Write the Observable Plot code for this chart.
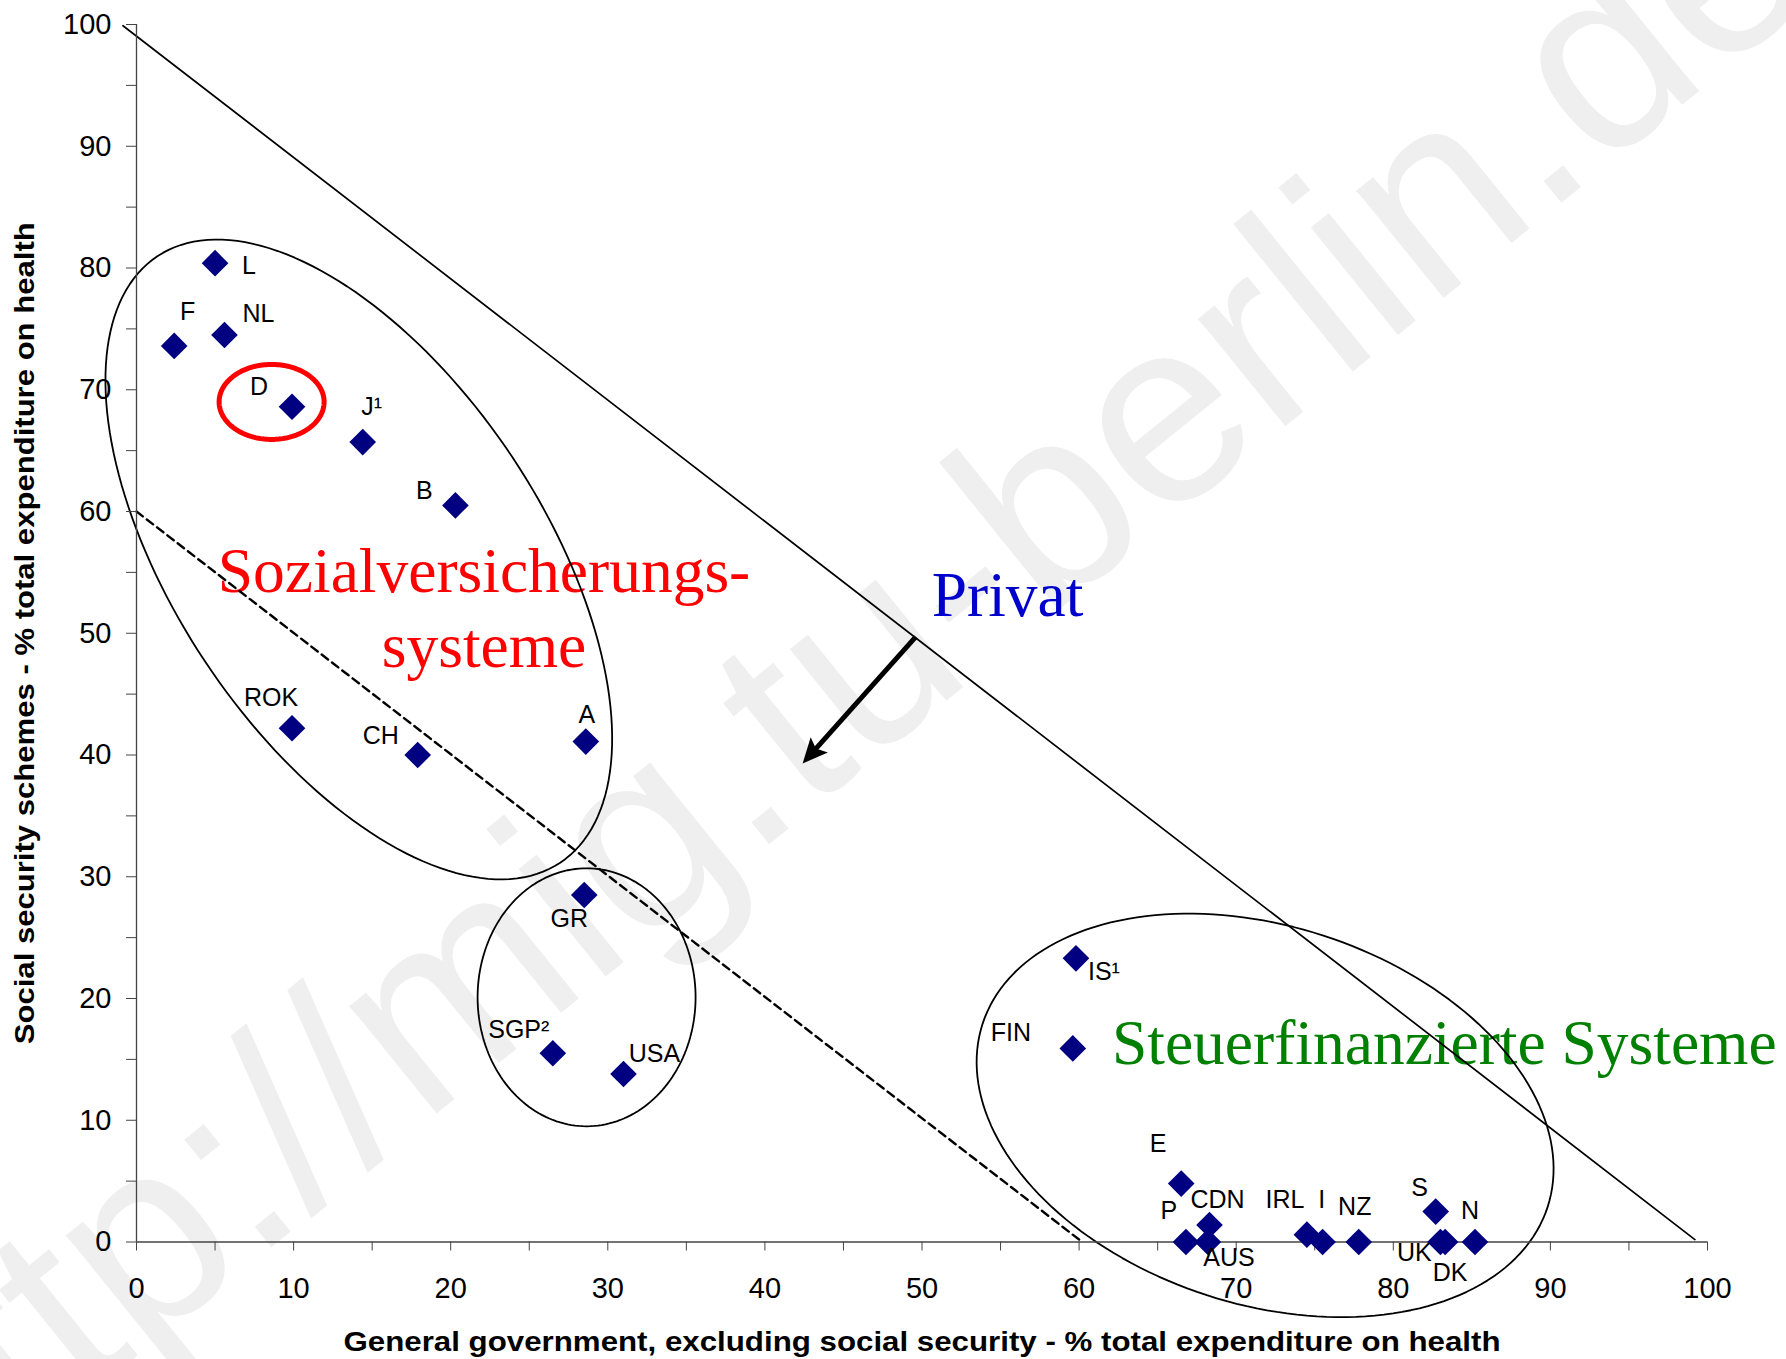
<!DOCTYPE html>
<html><head><meta charset="utf-8">
<script src="https://cdn.jsdelivr.net/npm/d3@7"></script>
<script src="https://cdn.jsdelivr.net/npm/@observablehq/plot@0.6"></script>
<style>html,body{margin:0;padding:0;background:#fff;} svg{display:block}</style>
</head><body><div id="chart"></div>
<script>
// ---- data ----
const countries   = ["L","F","NL","D","J¹","B","ROK","CH","A","GR","SGP²","USA","IS¹","FIN","E","P","CDN","AUS","IRL","I","NZ","S","UK","DK","N"];
const govShare    = [5.0, 2.4, 5.6, 9.9, 14.4, 20.3, 9.9, 17.9, 28.6, 28.5, 26.5, 31.0, 59.8, 59.6, 66.5, 66.8, 68.3, 68.2, 74.5, 75.5, 77.8, 82.7, 83.0, 83.3, 85.2];
const socialShare = [80.4, 73.6, 74.5, 68.6, 65.7, 60.5, 42.2, 40.0, 41.1, 28.5, 15.5, 13.8, 23.3, 15.9, 4.8, 0, 1.4, 0, 0.6, 0, 0, 2.5, 0, 0, 0];
const xTicks = d3.range(0, 101, 5);
const yTicks = d3.range(0, 101, 5);
const xTitle = "General government, excluding social security - % total expenditure on health";
const yTitle = "Social security schemes - % total expenditure on health";
const watermark = "http://mig.tu-berlin.de";

// ---- layout ----
const W = 1786, H = 1359;
const M = {top: 24, right: 79, bottom: 117.5, left: 136};
const kx = (W - M.left - M.right) / 100;
const ky = (H - M.top - M.bottom) / 100;

const points = countries.map((c, i) => ({country: c, x: govShare[i], y: socialShare[i]}));

// label centre offsets in px
const labelOffsets = {
  "L": [34, 3], "F": [13.5, -33.5], "NL": [34, -21], "D": [-33, -20], "J¹": [9, -35],
  "B": [-31, -14], "ROK": [-21, -30], "CH": [-37, -19], "A": [1, -27], "GR": [-15, 24],
  "SGP²": [-34, -23], "USA": [31, -20], "IS¹": [28, 14], "FIN": [-62, -15], "E": [-23, -40],
  "P": [-17, -31], "CDN": [8, -25], "AUS": [21, 16], "IRL": [-22, -35], "I": [-1, -42],
  "NZ": [-4, -35], "S": [-16, -24], "UK": [-26, 11], "DK": [5, 31], "N": [-5, -31]
};

// annotation shapes: centre in data units, radii in px, rotation in degrees
const ellipses = [
  {cx: 14.15, cy: 56.06, a: 364, b: 184.5, angle: 56.4, stroke: "black", width: 1.8},
  {cx: 28.65, cy: 20.1, a: 109, b: 129, angle: 0, stroke: "black", width: 1.8},
  {cx: 71.84, cy: 10.4, a: 297, b: 189, angle: 17.95, stroke: "black", width: 1.8},
  {cx: 8.6, cy: 69.0, a: 52.5, b: 37.5, angle: 0, stroke: "#ff0000", width: 5}
];
function ellipsePts(e) {
  const th = e.angle * Math.PI / 180;
  return d3.range(0, 361, 2).map(t => {
    const r = t * Math.PI / 180;
    const px = e.a * Math.cos(r) * Math.cos(th) - e.b * Math.sin(r) * Math.sin(th);
    const py = e.a * Math.cos(r) * Math.sin(th) + e.b * Math.sin(r) * Math.cos(th);
    return {x: e.cx + px / kx, y: e.cy - py / ky};
  });
}
const privateLine = [{x: -0.86, y: 99.9}, {x: 99.2, y: 0.2}];
const dashedLine = [{x: 0, y: 60}, {x: 60, y: 0.2}];
const arrowFrom = {x: 49.6, y: 49.7}, arrowTo = {x: 42.4, y: 39.3};

// arrow geometry in screen space
const adx = (arrowTo.x - arrowFrom.x) * kx, ady = -(arrowTo.y - arrowFrom.y) * ky;
const alen = Math.hypot(adx, ady);
const arrowAngle = Math.atan2(adx / alen, -ady / alen) * 180 / Math.PI;
const shaftEnd = {x: arrowTo.x - (adx / alen) * 16 / kx, y: arrowTo.y + (ady / alen) * 16 / ky};
const arrowHead = {draw(ctx) { ctx.moveTo(0, 0); ctx.lineTo(-11.5, 25); ctx.lineTo(0, 20); ctx.lineTo(11.5, 25); ctx.closePath(); }};

const serif = "'Liberation Serif', 'Times New Roman', serif";

const marks = [
  // watermark
  Plot.text([watermark], {x: 43.3, y: 44.7, text: d => d, rotate: -39, fontSize: 262,
    fill: "#efefef", textAnchor: "middle", lineAnchor: "middle", fontFamily: "'Liberation Sans', Arial, sans-serif"}),
  // big annotations
  Plot.text(["Sozialversicherungs-\nsysteme"], {x: 22.12, y: 47.2, text: d => d, fontSize: 63.5, fontFamily: serif,
    fill: "#ff0000", textAnchor: "middle", lineAnchor: "bottom", lineHeight: 1.19}),
  Plot.text(["Privat"], {x: 50.62, y: 51.38, text: d => d, fontSize: 63.5, fontFamily: serif,
    fill: "#0000cc", textAnchor: "start", lineAnchor: "bottom"}),
  Plot.text(["Steuerfinanzierte Systeme"], {x: 62.09, y: 14.58, text: d => d, fontSize: 63.5, fontFamily: serif,
    fill: "#008000", textAnchor: "start", lineAnchor: "bottom"}),
  // lines
  Plot.line(privateLine, {x: "x", y: "y", stroke: "black", strokeWidth: 1.7}),
  Plot.line(dashedLine, {x: "x", y: "y", stroke: "black", strokeWidth: 2.4, strokeDasharray: "8,5"}),
  ...ellipses.map(e => Plot.line(ellipsePts(e), {x: "x", y: "y", stroke: e.stroke, strokeWidth: e.width})),
  Plot.link([{from: arrowFrom, to: shaftEnd}], {x1: d => d.from.x, y1: d => d.from.y, x2: d => d.to.x, y2: d => d.to.y,
    stroke: "black", strokeWidth: 5}),
  Plot.dot([arrowTo], {x: "x", y: "y", symbol: arrowHead, rotate: arrowAngle, fill: "black", stroke: "none", r: 10}),
  // axis lines
  Plot.ruleY([0], {stroke: "#444", strokeWidth: 1.3}),
  Plot.ruleX([0], {stroke: "#444", strokeWidth: 1.3}),
  Plot.axisX({ticks: xTicks, tickFormat: d => d % 10 === 0 ? String(d) : "", tickSize: 9, tickPadding: 26,
    fontSize: 29, label: null, stroke: "#444"}),
  Plot.axisY({ticks: yTicks, tickFormat: d => d % 10 === 0 ? String(d) : "", tickSize: 10, tickPadding: 15,
    fontSize: 29, label: null, stroke: "#444"}),
  // points
  Plot.dot(points, {x: "x", y: "y", symbol: "diamond2", r: 12, fill: "#000080", stroke: "none"}),
  // labels
  ...points.map(p => Plot.text([p], {x: "x", y: "y", text: "country", fontSize: 25, fill: "black",
    textAnchor: "middle", lineAnchor: "middle", dx: labelOffsets[p.country][0], dy: labelOffsets[p.country][1]})),
  // axis titles
  Plot.text([xTitle], {frameAnchor: "bottom", text: d => d, dy: 108.5, lineAnchor: "bottom", textAnchor: "middle",
    fontSize: 28, fontWeight: "bold", fill: "black", className: "xtitle"}),
  Plot.text([yTitle], {frameAnchor: "left", text: d => d, dx: -103, rotate: -90, lineAnchor: "bottom", textAnchor: "middle",
    fontSize: 28, fontWeight: "bold", fill: "black", className: "ytitle"})
];

const chart = Plot.plot({
  width: W, height: H,
  marginTop: M.top, marginRight: M.right, marginBottom: M.bottom, marginLeft: M.left,
  x: {domain: [0, 100]},
  y: {domain: [0, 100]},
  style: {fontFamily: "'Liberation Sans', Arial, sans-serif", background: "white", color: "black"},
  marks
});
// stretch axis titles to the reference's lengths
chart.querySelectorAll(".xtitle text").forEach(t => { t.setAttribute("textLength", 1157); t.setAttribute("lengthAdjust", "spacingAndGlyphs"); });
chart.querySelectorAll(".ytitle text").forEach(t => { t.setAttribute("textLength", 822); t.setAttribute("lengthAdjust", "spacingAndGlyphs"); });
document.getElementById("chart").appendChild(chart);
</script>
</body></html>
